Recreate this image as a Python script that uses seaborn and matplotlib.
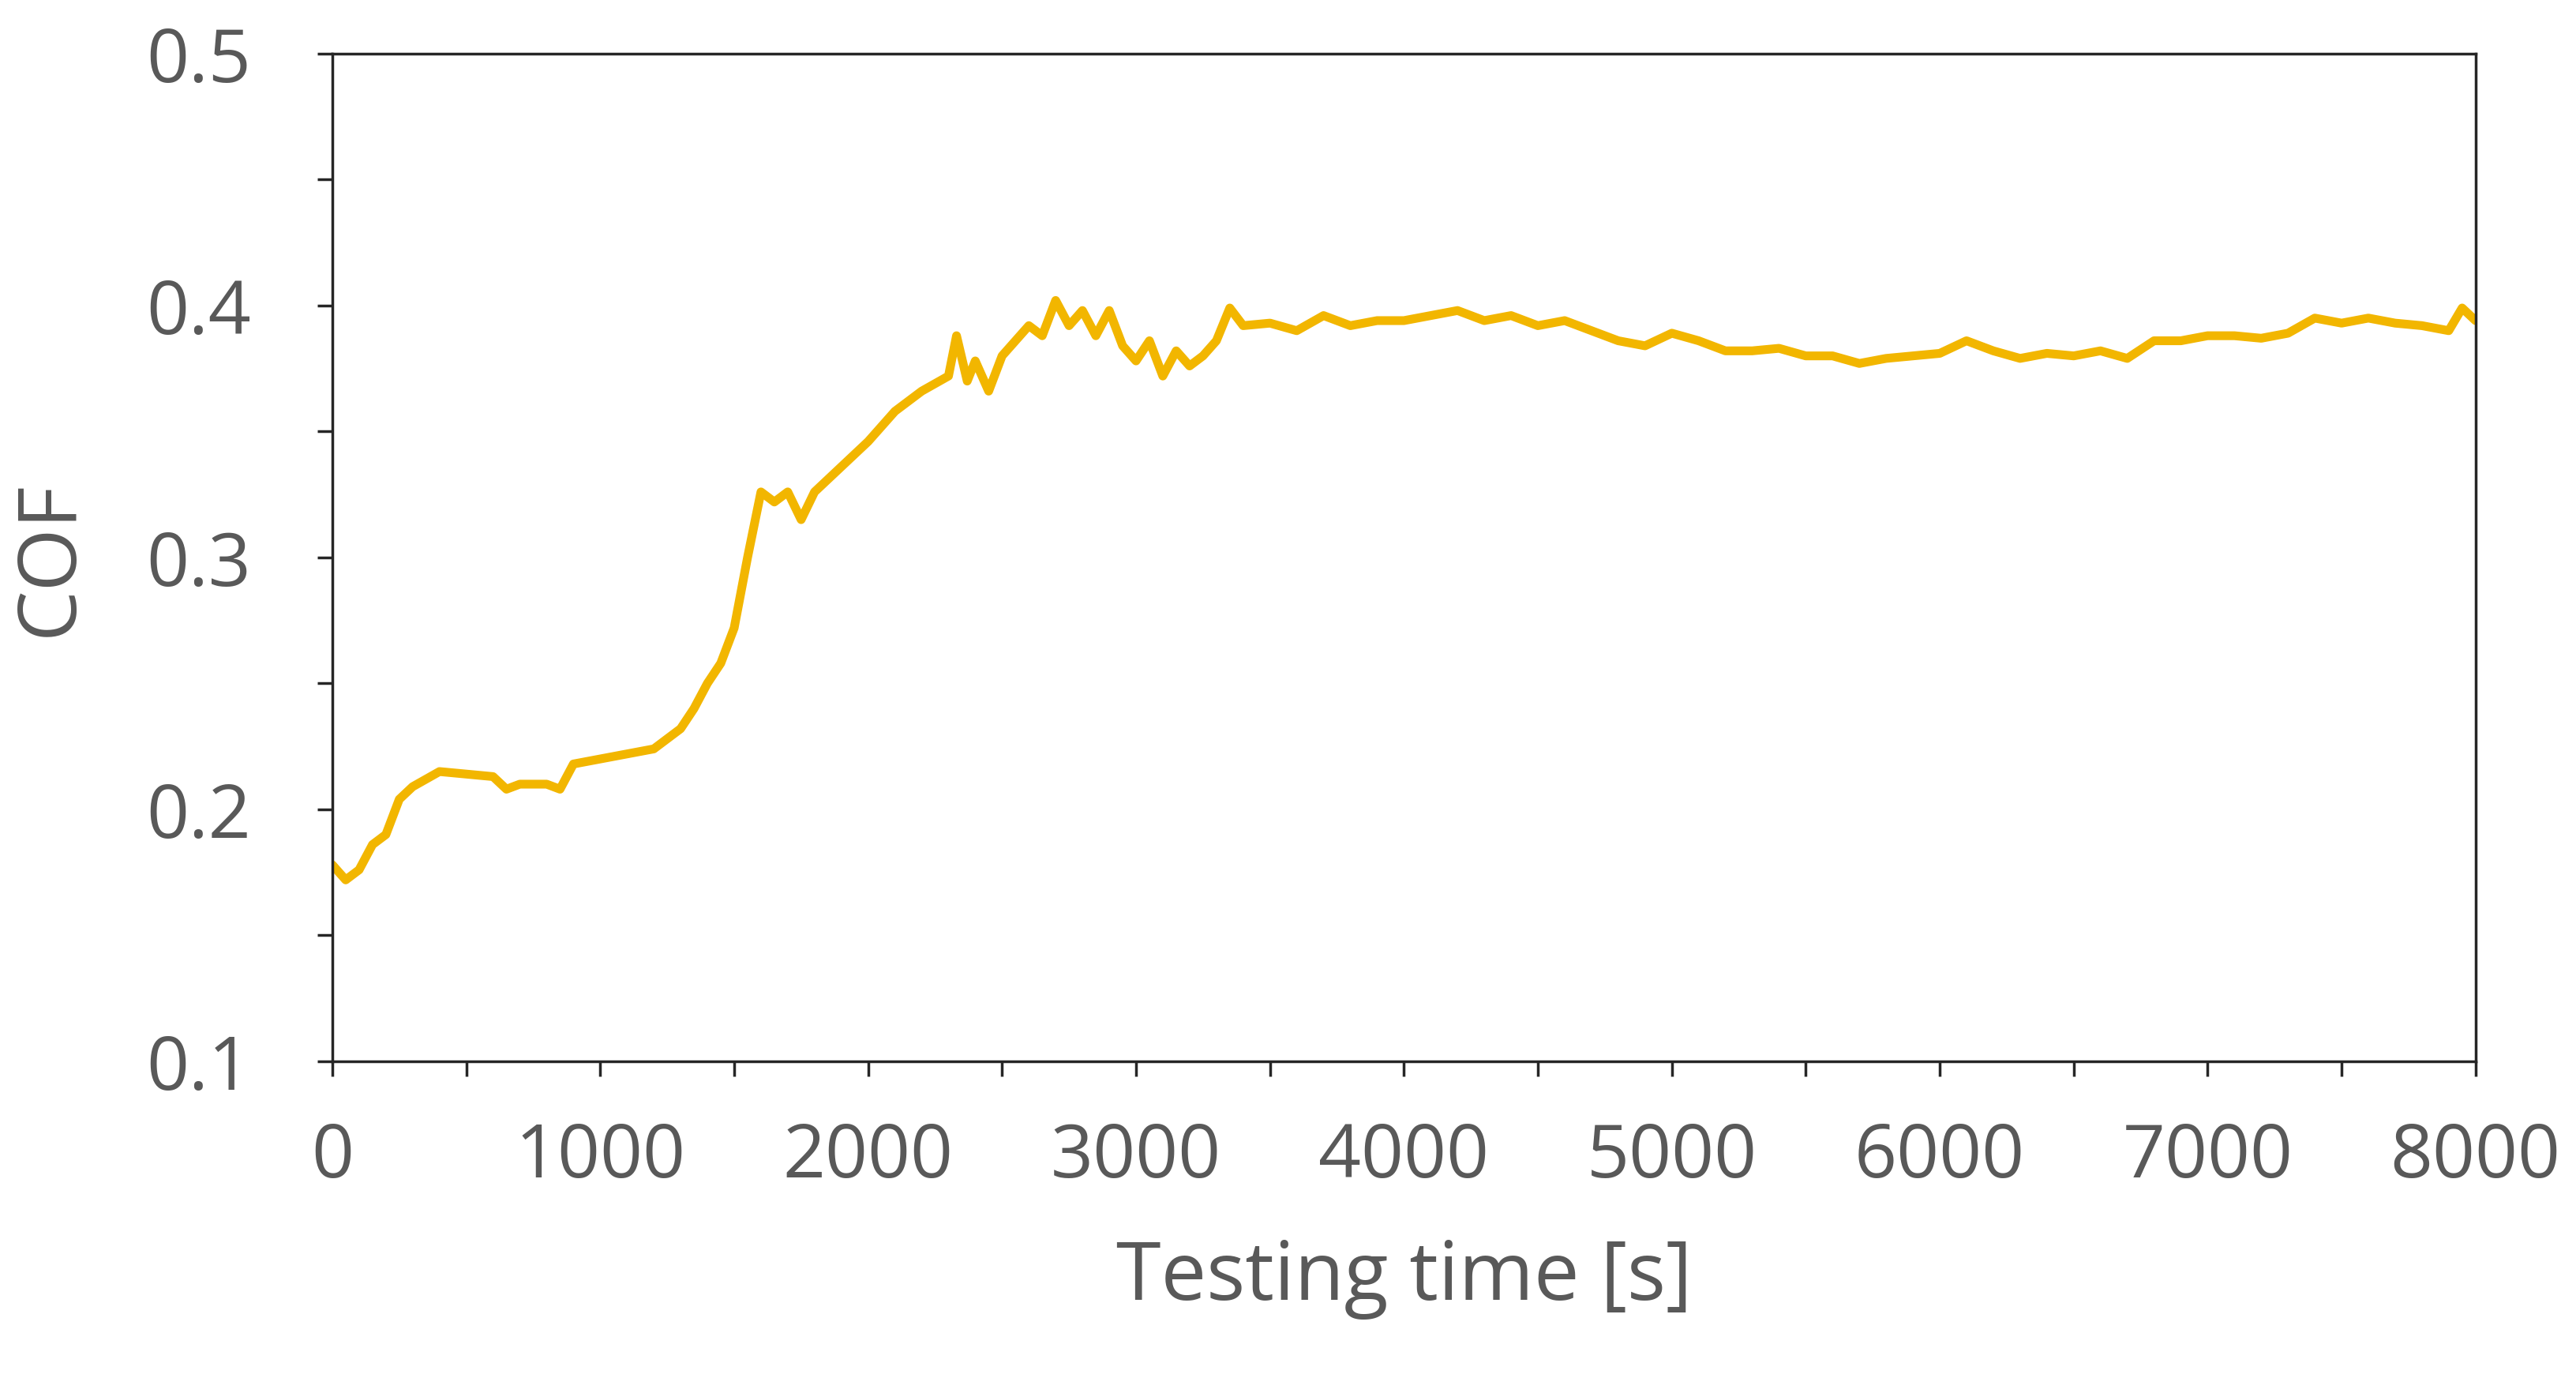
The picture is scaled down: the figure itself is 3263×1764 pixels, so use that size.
import matplotlib
matplotlib.use("Agg")
import matplotlib.pyplot as plt
import seaborn as sns
import pandas as pd
from matplotlib.ticker import MultipleLocator

time_s = [0, 50, 100, 150, 200, 250, 300, 350, 400, 500, 600, 650, 700, 800, 850, 900, 1000,
          1100, 1200, 1300, 1350, 1400, 1450, 1500, 1550, 1600, 1650, 1700, 1750, 1800, 1900,
          2000, 2050, 2100, 2200, 2300, 2330, 2370, 2400, 2450, 2500, 2550, 2600, 2650, 2700,
          2750, 2800, 2850, 2900, 2950, 3000, 3050, 3100, 3150, 3200, 3250, 3300, 3350, 3400,
          3500, 3600, 3700, 3800, 3900, 4000, 4100, 4200, 4300, 4400, 4500, 4600, 4700, 4800,
          4900, 5000, 5100, 5200, 5300, 5400, 5500, 5600, 5700, 5800, 5900, 6000, 6100, 6200,
          6300, 6400, 6500, 6600, 6700, 6800, 6900, 7000, 7100, 7200, 7300, 7400, 7500, 7600,
          7700, 7800, 7900, 7950, 8000]
cof = [0.178, 0.172, 0.176, 0.186, 0.190, 0.204, 0.209, 0.212, 0.215, 0.214, 0.213, 0.208,
       0.210, 0.210, 0.208, 0.218, 0.220, 0.222, 0.224, 0.232, 0.240, 0.250, 0.258, 0.272,
       0.300, 0.326, 0.322, 0.326, 0.315, 0.326, 0.336, 0.346, 0.352, 0.358, 0.366, 0.372,
       0.388, 0.370, 0.378, 0.366, 0.380, 0.386, 0.392, 0.388, 0.402, 0.392, 0.398, 0.388,
       0.398, 0.384, 0.378, 0.386, 0.372, 0.382, 0.376, 0.380, 0.386, 0.399, 0.392, 0.393,
       0.390, 0.396, 0.392, 0.394, 0.394, 0.396, 0.398, 0.394, 0.396, 0.392, 0.394, 0.390,
       0.386, 0.384, 0.389, 0.386, 0.382, 0.382, 0.383, 0.380, 0.380, 0.377, 0.379, 0.380,
       0.381, 0.386, 0.382, 0.379, 0.381, 0.380, 0.382, 0.379, 0.386, 0.386, 0.388, 0.388,
       0.387, 0.389, 0.395, 0.393, 0.395, 0.393, 0.392, 0.390, 0.399, 0.394]

df = pd.DataFrame({"t": time_s, "cof": cof})

sns.set_theme(style="white")
plt.rcParams["font.family"] = ["Open Sans", "DejaVu Sans"]
fig = plt.figure(figsize=(32.63, 17.65), dpi=100)
ax = fig.add_axes([0.129, 0.238, 0.832, 0.723])
sns.lineplot(data=df, x="t", y="cof", ax=ax, color="#F2B600", linewidth=8)

txt = "#595959"
ax.set_xlim(0, 8000)
ax.set_ylim(0.1, 0.5)
ax.xaxis.set_major_locator(MultipleLocator(1000))
ax.xaxis.set_minor_locator(MultipleLocator(500))
ax.yaxis.set_minor_locator(MultipleLocator(0.05))
ax.set_yticks([0.1, 0.2, 0.3, 0.4, 0.5])
ax.set_yticklabels(["0.1", "0.2", "0.3", "0.4", "0.5"])
ax.tick_params(axis="both", which="both", direction="out", length=14, width=2.5,
               color="#262626", labelsize=68, labelcolor=txt)
ax.tick_params(axis="y", pad=60)
ax.tick_params(axis="x", pad=40)
ax.tick_params(bottom=True, left=True, which="both")
for s in ax.spines.values():
    s.set_color("#262626")
    s.set_linewidth(2.5)
ax.set_xlabel("Testing time [s]", fontsize=74, color=txt, labelpad=40)
ax.set_ylabel("COF", fontsize=74, color=txt, labelpad=50)
fig.savefig("out.png", dpi=100, facecolor="white")
